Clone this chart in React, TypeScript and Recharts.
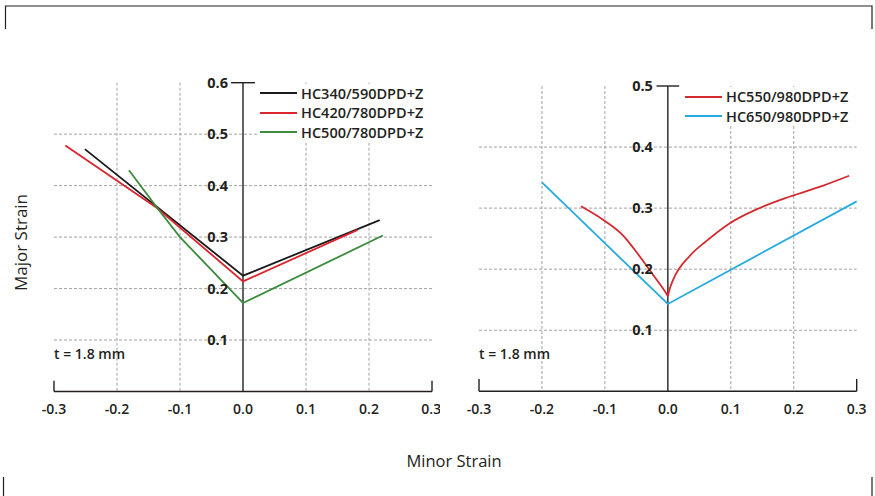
import React from "react";
import {
  LineChart, Line, XAxis, YAxis, CartesianGrid, Legend,
  ReferenceLine, ReferenceDot,
} from "recharts";

// minor strain ticks, shared by both panels
const xTicks = [-0.3, -0.2, -0.1, 0, 0.1, 0.2, 0.3];
const xGrid = [-0.2, -0.1, 0.1, 0.2];

// left panel
const leftYTicks = [0.1, 0.2, 0.3, 0.4, 0.5, 0.6];
const leftYGrid = [0.1, 0.2, 0.3, 0.4, 0.5];
const hc340 = [
  { x: -0.251, y: 0.471 }, { x: 0, y: 0.225 }, { x: 0.217, y: 0.333 },
];
const hc420 = [
  { x: -0.282, y: 0.478 }, { x: -0.137, y: 0.357 }, { x: 0, y: 0.214 }, { x: 0.182, y: 0.314 },
];
const hc500 = [
  { x: -0.181, y: 0.43 }, { x: -0.137, y: 0.358 }, { x: -0.1, y: 0.3 }, { x: 0, y: 0.172 }, { x: 0.222, y: 0.303 },
];

// right panel
const rightYTicks = [0.1, 0.2, 0.3, 0.4, 0.5];
const rightYGrid = [0.1, 0.2, 0.3, 0.4];
const hc550Left = [
  { x: -0.138, y: 0.303 }, { x: -0.103, y: 0.281 }, { x: -0.071, y: 0.255 },
  { x: -0.044, y: 0.22 }, { x: -0.018, y: 0.183 }, { x: -0.006, y: 0.166 }, { x: 0, y: 0.156 },
];
const hc550Right = [
  { x: 0, y: 0.156 }, { x: 0.003, y: 0.168 }, { x: 0.0085, y: 0.183 }, { x: 0.035, y: 0.222 },
  { x: 0.061, y: 0.246 }, { x: 0.098, y: 0.275 }, { x: 0.141, y: 0.298 },
  { x: 0.194, y: 0.319 }, { x: 0.247, y: 0.337 }, { x: 0.288, y: 0.353 },
];
const hc650 = [
  { x: -0.2, y: 0.342 }, { x: 0, y: 0.143 }, { x: 0.3, y: 0.311 },
];

const INK = "#231f20";
const FONT = "'Open Sans', sans-serif";

type Pt = { x: number; y: number };
type Series = { name: string; color: string; parts: Pt[][]; curve: "linear" | "monotone" };

const leftSeries: Series[] = [
  { name: "HC340/590DPD+Z", color: "#1a1a1a", parts: [hc340], curve: "linear" },
  { name: "HC420/780DPD+Z", color: "#d9262e", parts: [hc420], curve: "linear" },
  { name: "HC500/780DPD+Z", color: "#3a8b3c", parts: [hc500], curve: "linear" },
];
// the HC550 curve has a sharp cusp at 0, so each branch is smoothed on its own
const rightSeries: Series[] = [
  { name: "HC550/980DPD+Z", color: "#d32a2f", parts: [hc550Left, hc550Right], curve: "monotone" },
  { name: "HC650/980DPD+Z", color: "#27aae1", parts: [hc650], curve: "linear" },
];

function LegendBox(props: any) {
  const { payload } = props;
  // one entry per series name (HC550 is drawn as two branches)
  const items = (payload || []).filter(
    (p: any, i: number, arr: any[]) => arr.findIndex((q: any) => q.value === p.value) === i
  );
  return (
    <div style={{ backgroundColor: "#fff", paddingLeft: 2 }}>
      {items.map((p: any) => (
        <div key={p.value} style={{ display: "flex", alignItems: "center", height: 19.5 }}>
          <span style={{ display: "inline-block", width: 37, height: 2, background: p.color, marginRight: 4 }} />
          <span style={{ fontFamily: FONT, fontSize: 14.5, fontWeight: 600, color: INK, whiteSpace: "nowrap" }}>
            {p.value}
          </span>
        </div>
      ))}
    </div>
  );
}

type PanelProps = {
  width: number;
  series: Series[];
  yMax: number;
  yTicks: number[];
  yGrid: number[];
  margin: { top: number; right: number; bottom: number; left: number };
  legendPos: { top: number; left: number; width: number };
  noteY: number;
  endTick: number;
  topTick: number;
};

function Panel({ width, series, yMax, yTicks, yGrid, margin, legendPos, noteY, endTick, topTick }: PanelProps) {
  return (
    <LineChart width={width} height={496} margin={margin}>
      <CartesianGrid
        stroke="#a3a3a3"
        strokeDasharray="3 2"
        horizontalValues={yGrid}
        verticalValues={xGrid}
      />
      <XAxis
        type="number"
        dataKey="x"
        domain={[-0.3, 0.3]}
        ticks={xTicks}
        tickFormatter={(v: number) => v.toFixed(1)}
        axisLine={{ stroke: INK, strokeWidth: 1.4 }}
        tickLine={false}
        tickSize={6}
        tickMargin={7}
        tick={{ fill: INK, fontSize: 14, fontWeight: 600, fontFamily: FONT }}
        height={30}
      />
      <YAxis type="number" domain={[0, yMax]} hide width={0} />
      {/* y axis drawn on minor strain = 0 */}
      <ReferenceLine segment={[{ x: 0, y: 0 }, { x: 0, y: yMax }]} stroke={INK} strokeWidth={1.4} />
      <ReferenceLine segment={[{ x: -topTick, y: yMax }, { x: topTick, y: yMax }]} stroke={INK} strokeWidth={1.4} />
      <ReferenceLine segment={[{ x: -0.3, y: 0 }, { x: -0.3, y: endTick }]} stroke={INK} strokeWidth={1.4} />
      <ReferenceLine segment={[{ x: 0.3, y: 0 }, { x: 0.3, y: endTick }]} stroke={INK} strokeWidth={1.4} />
      {yTicks.map((v) => (
        <ReferenceDot
          key={v}
          x={0}
          y={v}
          r={0}
          fill="none"
          stroke="none"
          label={{ value: v.toFixed(1), position: "left", offset: 15, fill: INK, fontSize: 14.5, fontWeight: 700, fontFamily: FONT }}
        />
      ))}
      <ReferenceDot
        x={-0.3}
        y={noteY}
        r={0}
        fill="none"
        stroke="none"
        label={{ value: "t = 1.8 mm", position: "right", offset: 0, fill: INK, fontSize: 14, fontWeight: 600, fontFamily: FONT }}
      />
      <Legend
        layout="vertical"
        align="center"
        verticalAlign="middle"
        wrapperStyle={{ top: legendPos.top, left: legendPos.left, width: legendPos.width }}
        content={<LegendBox />}
      />
      {series.flatMap((s) =>
        s.parts.map((part, i) => (
          <Line
            key={s.name + i}
            data={part}
            dataKey="y"
            name={s.name}
            type={s.curve}
            stroke={s.color}
            strokeWidth={1.8}
            dot={false}
            activeDot={false}
            isAnimationActive={false}
          />
        ))
      )}
    </LineChart>
  );
}

export default function App() {
  return (
    <div style={{ position: "absolute", left: 0, top: 0, width: 875, height: 496, background: "#fff", overflow: "hidden" }}>
      <svg width={875} height={496} style={{ position: "absolute", left: 0, top: 0 }}>
        <path d="M5.5,29 V6 H872 V29" fill="none" stroke={INK} strokeWidth={1.2} />
        <path d="M3.5,477 V496 M872,477 V496" fill="none" stroke={INK} strokeWidth={1.2} />
        <text
          x={27}
          y={242.5}
          transform="rotate(-90 27 242.5)"
          textAnchor="middle"
          fontFamily={FONT}
          fontSize={17}
          fill={INK}
        >
          Major Strain
        </text>
        <text x={454} y={467} textAnchor="middle" fontFamily={FONT} fontSize={16.5} fill={INK}>
          Minor Strain
        </text>
      </svg>
      <div style={{ position: "absolute", left: 0, top: 0 }}>
        <Panel
          width={440}
          series={leftSeries}
          yMax={0.6}
          yTicks={leftYTicks}
          yGrid={leftYGrid}
          margin={{ top: 82.7, right: 8, bottom: 74.5, left: 54 }}
          legendPos={{ top: 83.5, left: 258, width: 174 }}
          noteY={0.072}
          endTick={0.021}
          topTick={0.019}
        />
      </div>
      <div style={{ position: "absolute", left: 440, top: 0 }}>
        <Panel
          width={435}
          series={rightSeries}
          yMax={0.5}
          yTicks={rightYTicks}
          yGrid={rightYGrid}
          margin={{ top: 86, right: 18.3, bottom: 74.7, left: 39 }}
          legendPos={{ top: 87, left: 243, width: 174 }}
          noteY={0.061}
          endTick={0.02}
          topTick={0.018}
        />
      </div>
    </div>
  );
}
